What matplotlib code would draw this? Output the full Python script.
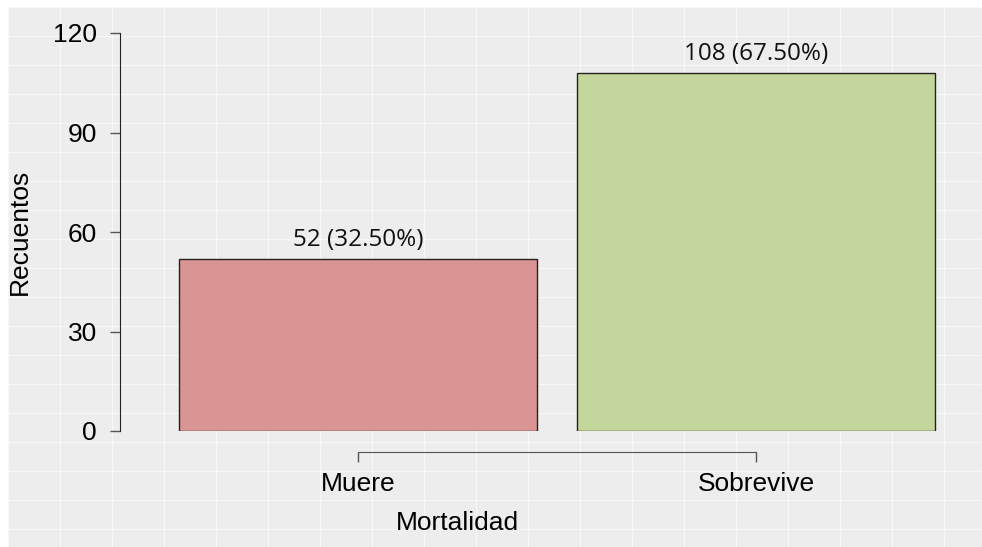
import matplotlib
matplotlib.use('Agg')
import matplotlib.pyplot as plt
import numpy as np

categorias = ['Muere', 'Sobrevive']
recuentos = [52, 108]
porcentajes = [32.50, 67.50]
colores = ['#D99594', '#C3D69B']

W, H = 982, 547
plt.rcParams['font.family'] = ['Liberation Sans', 'DejaVu Sans']
fig = plt.figure(figsize=(W / 100, H / 100), dpi=100)
fig.patch.set_facecolor('white')

# fondo gris con cuadricula blanca
bg = fig.add_axes([8 / W, 0, 1 - 8 / W, 1 - 7 / H], zorder=0)
bg.set_facecolor('#EDEDED')
bg.set_xlim(8, W); bg.set_ylim(H, 7)
for gx in np.arange(8, W, 52):
    bg.axvline(gx, color='#F7F7F7', lw=1.0)
for gy in np.arange(7, H, 29):
    bg.axhline(gy, color='#F7F7F7', lw=1.0)
bg.set_xticks([]); bg.set_yticks([])
for s in bg.spines.values():
    s.set_visible(False)

# ejes principales (en pixeles)
left, right, top, bottom = 120, 960, 33, 431
ax = fig.add_axes([left / W, 1 - bottom / H, (right - left) / W, (bottom - top) / H], zorder=1)
ax.patch.set_visible(False)
ppu = 398.0
ax.set_xlim(1 - (358 - left) / ppu, 2 + (right - 756) / ppu)
ax.set_ylim(0, 120)

x = np.arange(1, len(categorias) + 1)
bars = ax.bar(x, recuentos, width=0.9, color=colores, edgecolor='#222222', linewidth=1.0)
for b, n, p in zip(bars, recuentos, porcentajes):
    ax.annotate(f'{n} ({p:.2f}%)', (b.get_x() + b.get_width() / 2, b.get_height()),
                xytext=(0, 5), textcoords='offset points', ha='center', va='bottom',
                fontsize=17.5, family=['Open Sans', 'DejaVu Sans'], color='#111111')

ax.set_xticks(x)
ax.set_xticklabels(categorias)
ax.set_yticks([0, 30, 60, 90, 120])
ax.spines['top'].set_visible(False)
ax.spines['right'].set_visible(False)
ax.spines['left'].set_bounds(0, 120)
ax.spines['bottom'].set_bounds(1, 2)
ax.spines['bottom'].set_position(('outward', 15))
ax.spines['left'].set_color('#222222')
ax.spines['bottom'].set_color('#555555')
ax.tick_params(axis='y', length=7.5, width=1, color='#555555', pad=9, labelsize=19)
ax.tick_params(axis='x', length=7.5, width=1, color='#555555', pad=7, labelsize=19)

fig.text(20 / W, 1 - 232 / H, 'Recuentos', rotation=90, ha='center', va='center', fontsize=19)
fig.text(457 / W, 1 - 523 / H, 'Mortalidad', ha='center', va='center', fontsize=19)

plt.savefig('out.png', dpi=100, facecolor='white')
